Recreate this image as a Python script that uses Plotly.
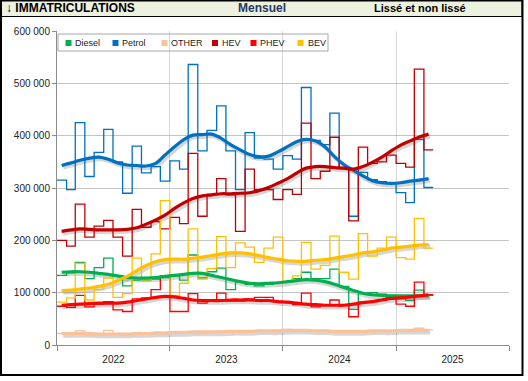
import plotly.graph_objects as go
import pandas as pd

# ---------------- data (monthly registrations, Jan 2022 - Apr 2025) ----------------
start_month = "2022-01-01"
n_months = 40

diesel = [133, 138, 158, 127, 148, 166, 131, 113, 124, 124,
          126, 129, 132, 124, 172, 128, 140, 147, 106, 120,
          116, 113, 116, 119, 121, 127, 139, 127, 127, 145,
          112, 68, 98, 100, 97, 95, 93, 85, 105, 95]
petrol = [315, 297, 425, 322, 368, 412, 350, 290, 380, 329,
          341, 313, 352, 336, 536, 371, 410, 457, 371, 297,
          406, 357, 355, 336, 362, 355, 492, 391, 383, 443,
          338, 246, 330, 316, 312, 310, 291, 272, 393, 301]
other = [22, 21, 27, 18, 22, 28, 22, 18, 22, 21,
         23, 22, 24, 23, 25, 22, 24, 26, 27, 25,
         24, 26, 27, 28, 30, 29, 28, 27, 28, 26,
         27, 24, 25, 25, 26, 27, 28, 27, 32, 29]
hev = [200, 189, 269, 206, 227, 238, 206, 170, 259, 225,
       236, 222, 244, 232, 366, 246, 288, 318, 287, 217,
       336, 297, 297, 278, 297, 288, 424, 318, 332, 397,
       337, 237, 378, 347, 350, 363, 347, 340, 527, 373]
phev = [74, 72, 95, 73, 78, 83, 67, 64, 88, 90,
        106, 132, 64, 64, 98, 80, 84, 99, 84, 84,
        88, 91, 91, 83, 83, 77, 99, 73, 77, 86,
        76, 54, 82, 83, 86, 92, 78, 74, 120, 96]
bev = [82, 90, 156, 86, 106, 128, 91, 98, 166, 122,
       174, 276, 95, 118, 222, 126, 146, 207, 148, 195,
       187, 158, 185, 206, 121, 132, 196, 145, 152, 208,
       139, 126, 213, 170, 185, 206, 167, 164, 242, 185]

# smoothed ("lissé") curves
diesel_s = [139, 140, 140, 139, 137, 135, 132, 129, 128, 128,
            129, 131, 133, 135, 137, 137, 133, 129, 125, 121,
            118, 117, 118, 119, 121, 123, 125, 124, 121, 116,
            110, 104, 99, 96, 95, 94, 94, 94, 94, 94]
petrol_s = [343, 348, 353, 357, 359, 355, 348, 344, 343, 342,
            347, 363, 379, 393, 401, 402, 403, 395, 383, 373,
            364, 360, 361, 369, 379, 389, 393, 390, 379, 360,
            345, 334, 323, 314, 310, 309, 310, 313, 315, 318]
other_s = [22, 22, 22, 22, 21, 21, 21, 21, 22, 22,
           23, 23, 24, 24, 25, 25, 25, 25, 26, 26,
           26, 27, 27, 27, 28, 28, 28, 27, 27, 26,
           26, 26, 26, 27, 27, 27, 28, 28, 28, 28]
hev_s = [217, 220, 222, 221, 220, 220, 220, 221, 224, 231,
         239, 248, 261, 272, 280, 285, 287, 289, 289, 290,
         291, 295, 301, 309, 318, 329, 338, 341, 341, 339,
         338, 336, 341, 349, 359, 371, 382, 390, 397, 403]
phev_s = [76, 77, 78, 79, 80, 80, 80, 82, 85, 88,
          91, 93, 92, 89, 86, 85, 85, 85, 86, 86,
          86, 85, 85, 83, 82, 80, 78, 77, 76, 76,
          76, 78, 81, 83, 86, 89, 90, 92, 94, 96]
bev_s = [104, 105, 107, 109, 112, 116, 123, 131, 142, 152,
         159, 163, 164, 164, 166, 168, 171, 174, 176, 176,
         174, 171, 167, 164, 161, 160, 160, 162, 163, 166,
         169, 172, 176, 178, 181, 185, 187, 189, 191, 192]

series_names = ["Diesel", "Petrol", "OTHER", "HEV", "PHEV", "BEV"]
raw_values = [diesel, petrol, other, hev, phev, bev]
smooth_values = [diesel_s, petrol_s, other_s, hev_s, phev_s, bev_s]
colors = ["#00B050", "#0070C0", "#F9C29A", "#C00000", "#FF0000", "#FFC000"]
unit = 1000

# ---------------- geometry ----------------
W, H = 528, 381
ML, MR, MT, MB = 57, 19, 31, 36
PW, PH = W - ML - MR, H - MT - MB


def px(x):
    return (x - ML) / PW


def py(y):
    return (H - MB - y) / PH


months = pd.date_range(start_month, periods=n_months, freq="MS")
step_x = list(months) + [months[-1] + pd.offsets.MonthBegin(1)]
mid_x = list(months + pd.Timedelta(days=15))

FONT = "Liberation Sans, Arial, sans-serif"

fig = go.Figure()

# shadows of smoothed curves (on the slightly shifted base axes)
for name, sv in zip(series_names, smooth_values):
    fig.add_trace(go.Scatter(
        x=mid_x, y=[v * unit for v in sv], mode="lines",
        line=dict(color="rgba(90,90,90,0.25)", width=4.5, shape="spline", smoothing=1.0),
        xaxis="x", yaxis="y", showlegend=False, hoverinfo="skip"))

# monthly step lines
for name, vals, c in zip(series_names, raw_values, colors):
    fig.add_trace(go.Scatter(
        x=step_x, y=[v * unit for v in vals] + [vals[-1] * unit], mode="lines",
        line=dict(color=c, width=1.3, shape="hv"),
        xaxis="x2", yaxis="y2", name=name, showlegend=False))

# smoothed curves
for name, sv, c in zip(series_names, smooth_values, colors):
    fig.add_trace(go.Scatter(
        x=mid_x, y=[v * unit for v in sv], mode="lines",
        line=dict(color=c, width=3.2, shape="spline", smoothing=1.0),
        xaxis="x2", yaxis="y2", name=name + " lissé", showlegend=False))

shift_days = 5
shift_val = 2 * 600000 / PH

fig.update_layout(
    width=W, height=H,
    margin=dict(l=ML, r=MR, t=MT, b=MB, pad=0),
    paper_bgcolor="white", plot_bgcolor="white",
    separators=", ",
    font=dict(family=FONT, size=10, color="#222"),
    showlegend=False,
    xaxis=dict(type="date", visible=False,
               range=[pd.Timestamp("2022-01-01") - pd.Timedelta(days=shift_days),
                      pd.Timestamp("2026-01-01") - pd.Timedelta(days=shift_days)]),
    yaxis=dict(visible=False, range=[shift_val, 600000 + shift_val]),
    xaxis2=dict(type="date", overlaying="x", anchor="y2", side="bottom",
                range=["2022-01-01", "2026-01-01"],
                tick0="2022-01-01", dtick="M12", tickformat="%Y",
                ticklabelmode="period",
                ticks="outside", ticklen=5, tickcolor="#8C8C8C",
                showline=True, linecolor="#8C8C8C", linewidth=1,
                showgrid=True, gridcolor="#D6D6D6", gridwidth=1,
                tickfont=dict(size=10, color="#222"), zeroline=False),
    yaxis2=dict(overlaying="y", anchor="x2", side="left",
                range=[0, 600000], dtick=100000, tick0=0,
                tickformat=",.0f",
                ticks="outside", ticklen=4, tickcolor="#8C8C8C",
                showline=True, linecolor="#8C8C8C", linewidth=1,
                showgrid=True, gridcolor="#C4C4C4", gridwidth=1,
                tickfont=dict(size=10, color="#222"), zeroline=False),
)

shapes = []
annotations = []

# header band and outer frame
shapes.append(dict(type="rect", xref="paper", yref="paper",
                   x0=px(1), x1=px(522), y0=py(0.5), y1=py(16.5),
                   fillcolor="#EDF1DF", line=dict(color="black", width=1), layer="below"))
shapes.append(dict(type="rect", xref="paper", yref="paper",
                   x0=px(1), x1=px(522.5), y0=py(0.5), y1=py(375),
                   fillcolor="rgba(0,0,0,0)", line=dict(color="black", width=2)))

annotations.append(dict(text="<b>↓ IMMATRICULATIONS</b>", xref="paper", yref="paper",
                        x=px(4), y=py(8.5), xanchor="left", yanchor="middle", showarrow=False,
                        font=dict(family=FONT, size=12, color="black")))
annotations.append(dict(text="<b>Mensuel</b>", xref="paper", yref="paper",
                        x=px(262), y=py(8.5), xanchor="center", yanchor="middle", showarrow=False,
                        font=dict(family=FONT, size=12, color="#1F3864")))
annotations.append(dict(text="<b>Lissé et non lissé</b>", xref="paper", yref="paper",
                        x=px(420), y=py(8.5), xanchor="center", yanchor="middle", showarrow=False,
                        font=dict(family=FONT, size=11, color="black")))

# legend box (drawn as layout decoration)
shapes.append(dict(type="rect", xref="paper", yref="paper",
                   x0=px(58), x1=px(328), y0=py(34), y1=py(51),
                   fillcolor="rgba(0,0,0,0)", line=dict(color="#A6A6A6", width=1)))
legend_square_x = [65.5, 112.5, 161.5, 212, 250.5, 297.5]
legend_text_x = [73, 120, 169, 220, 258, 306]
for name, c, sx, tx in zip(series_names, colors, legend_square_x, legend_text_x):
    shapes.append(dict(type="rect", xref="paper", yref="paper",
                       x0=px(sx), x1=px(sx + 6), y0=py(40), y1=py(46),
                       fillcolor=c, line=dict(width=0)))
    annotations.append(dict(text=name, xref="paper", yref="paper",
                            x=px(tx), y=py(43), xanchor="left", yanchor="middle",
                            showarrow=False, font=dict(family=FONT, size=9, color="#222")))

fig.update_layout(shapes=shapes, annotations=annotations)

fig.write_html("out.html",
               config={"displayModeBar": False, "staticPlot": True},
               post_script="document.body.style.margin='0';document.body.style.overflow='hidden';")
